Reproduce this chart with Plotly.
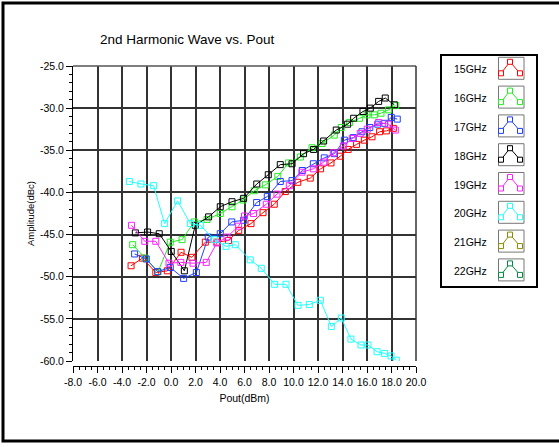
import plotly.graph_objects as go

# ---------------- data ----------------
freq_labels = ["15GHz", "16GHz", "17GHz", "18GHz", "19GHz", "20GHz", "21GHz", "22GHz"]
series_colors = ["#ff0000", "#22ee22", "#1f3fff", "#000000", "#ff22ff", "#22ffff", "#8a8a00", "#008a40"]

x15 = [-3.26, -2.33, -1.24, -0.30, 0.82, 1.71, 2.80, 3.76, 4.70, 5.53, 6.53, 7.51, 8.43, 9.33, 10.35,
       11.37, 12.21, 13.06, 13.82, 14.46, 15.15, 15.78, 16.41, 17.03, 17.58, 18.15]
y15 = [-48.7, -47.8, -49.5, -49.3, -47.1, -47.7, -45.9, -45.9, -45.7, -44.5, -43.7, -42.4, -41.4, -39.9, -38.8,
       -38.3, -37.2, -36.5, -35.7, -34.9, -34.3, -33.8, -33.4, -32.8, -32.7, -32.4]

x16 = [-3.13, -2.10, -1.06, -0.06, 0.90, 1.90, 2.94, 4.02, 4.98, 5.88, 6.80, 7.70, 8.72, 9.60, 10.56,
       11.51, 12.33, 13.33, 13.90, 14.58, 15.40, 16.00, 16.60, 17.14, 17.76, 18.35]
y16 = [-46.2, -47.8, -49.4, -45.9, -45.6, -43.5, -43.2, -42.5, -41.7, -40.9, -39.8, -39.1, -38.1, -36.5, -35.8,
       -34.7, -34.2, -33.2, -32.3, -31.7, -31.2, -30.8, -30.8, -30.6, -30.2, -29.7]

x17 = [-2.97, -2.02, -1.09, -0.06, 1.03, 2.07, 3.04, 4.02, 4.96, 5.93, 6.99, 7.86, 8.92, 9.88, 10.72,
       11.62, 12.51, 13.33, 14.15, 14.88, 15.59, 16.23, 16.88, 17.45, 17.98, 18.47]
y17 = [-47.3, -47.9, -49.4, -48.9, -50.2, -49.5, -45.3, -44.9, -43.5, -43.3, -41.2, -40.5, -38.7, -38.6, -37.4,
       -36.6, -35.9, -35.4, -33.8, -33.5, -32.8, -32.3, -31.9, -31.8, -31.1, -31.3]

x18 = [-2.91, -1.91, -0.96, 0.02, 1.09, 1.98, 3.07, 4.02, 4.98, 5.93, 7.00, 7.94, 8.92, 9.88, 10.82,
       11.64, 12.46, 13.49, 14.42, 14.91, 15.67, 16.27, 16.95, 17.49, 18.23]
y18 = [-44.8, -44.7, -44.9, -47.0, -49.3, -43.9, -42.9, -41.7, -41.1, -40.7, -39.0, -37.9, -36.7, -36.6, -35.4,
       -34.9, -33.9, -32.6, -31.9, -31.2, -30.4, -30.0, -29.2, -28.8, -29.6]

x19 = [-3.22, -2.14, -1.24, -0.16, 0.80, 1.80, 2.88, 3.74, 4.57, 5.52, 6.00, 6.74, 7.78, 8.65, 9.66,
       10.69, 11.62, 12.47, 13.25, 14.07, 14.80, 15.45, 16.02, 16.95, 17.74, 18.31]
y19 = [-43.9, -45.8, -45.8, -48.4, -48.3, -48.4, -48.3, -46.0, -45.3, -44.0, -42.8, -42.5, -41.4, -40.2, -39.2,
       -37.6, -37.2, -36.4, -35.3, -34.5, -33.6, -33.0, -32.5, -31.7, -31.9, -32.6]

x20 = [-3.40, -2.45, -1.42, -0.52, 0.54, 1.58, 2.39, 3.53, 4.49, 5.25, 6.47, 7.37, 8.46, 9.39, 10.37,
       11.29, 12.19, 13.09, 13.90, 14.69, 15.51, 16.08, 16.82, 17.44, 17.96, 18.39]
y20 = [-38.7, -39.0, -39.2, -43.7, -41.0, -43.7, -43.9, -45.6, -46.4, -46.2, -48.0, -49.0, -50.9, -50.9, -53.4,
       -53.3, -52.8, -55.9, -54.9, -57.4, -58.1, -58.1, -58.9, -59.1, -59.4, -59.9]

x21, y21 = [], []
x22, y22 = [], []

xs = [x15, x16, x17, x18, x19, x20, x21, x22]
ys = [y15, y16, y17, y18, y19, y20, y21, y22]

x_ticks = [-8, -6, -4, -2, 0, 2, 4, 6, 8, 10, 12, 14, 16, 18, 20]
y_ticks = [-25, -30, -35, -40, -45, -50, -55, -60]

# ---------------- figure ----------------
W, H = 559, 447
ML, MR, MT, MB = 73, 143, 66, 81
PW, PH = W - ML - MR, H - MT - MB

def px(xpix):
    return (xpix - ML) / PW

def py(ypix):
    return (H - MB - ypix) / PH

FONT = "Liberation Sans, Arial, sans-serif"

fig = go.Figure()
for lab, col, xv, yv in zip(freq_labels, series_colors, xs, ys):
    if len(xv) == 0:
        continue
    fig.add_trace(go.Scatter(
        x=xv, y=yv, mode="lines+markers", name=lab,
        line=dict(color=col, width=1),
        marker=dict(symbol="square-open", size=6, color=col, line=dict(width=1, color=col)),
        showlegend=False,
    ))

fig.update_layout(
    width=W, height=H,
    margin=dict(l=ML, r=MR, t=MT, b=MB),
    paper_bgcolor="white", plot_bgcolor="white",
    font=dict(family=FONT, size=10, color="black"),
    showlegend=False,
)

fig.update_xaxes(
    range=[-8, 20], tickvals=x_ticks, ticktext=[f"{v:.1f}" for v in x_ticks],
    showgrid=True, gridcolor="#333333", gridwidth=1.5,
    zeroline=False, showline=True, linecolor="black", linewidth=1,
    ticks="outside", ticklen=6, tickcolor="black",
    minor=dict(dtick=0.5, ticks="outside", ticklen=3, tickcolor="black", showgrid=False),
    anchor="free", position=0,
    title=dict(text="Pout(dBm)", font=dict(size=10.5), standoff=8),
    tickfont=dict(size=10.5),
)
fig.update_yaxes(
    range=[-60, -25], tickvals=y_ticks, ticktext=[f"{v:.1f}" for v in y_ticks],
    domain=[(366 - 361) / PH, 1],
    showgrid=True, gridcolor="#333333", gridwidth=1.5,
    zeroline=False, showline=True, linecolor="black", linewidth=1, mirror=False,
    ticks="outside", ticklen=6, tickcolor="black",
    minor=dict(dtick=1, ticks="outside", ticklen=3, tickcolor="black", showgrid=False),
    title=dict(text="Amplitude(dBc)", font=dict(size=9.5), standoff=3),
    tickfont=dict(size=10.5),
)

shapes = []
# plot frame top / right
shapes.append(dict(type="line", xref="paper", yref="paper", x0=0, x1=1, y0=1, y1=1,
                   line=dict(color="#555555", width=1.5)))
shapes.append(dict(type="line", xref="paper", yref="paper", x0=1, x1=1, y0=py(361), y1=1,
                   line=dict(color="#333333", width=1.5)))
# outer frame
shapes.append(dict(type="rect", xref="paper", yref="paper", x0=px(3), x1=px(600), y0=py(441), y1=py(3),
                   line=dict(color="black", width=3)))
# legend box
shapes.append(dict(type="rect", xref="paper", yref="paper", x0=px(441), x1=px(537), y0=py(287), y1=py(55),
                   line=dict(color="black", width=2)))

annotations = [dict(text="2nd Harmonic Wave vs. Pout", xref="paper", yref="paper",
                    x=px(187), y=py(39.5), showarrow=False, xanchor="center", yanchor="middle",
                    font=dict(size=13.5, family=FONT, color="black"))]

for i, (lab, col) in enumerate(zip(freq_labels, series_colors)):
    cy = 69.3 + i * 28.8
    annotations.append(dict(text=lab, xref="paper", yref="paper", x=px(470), y=py(cy),
                            showarrow=False, xanchor="center", yanchor="middle",
                            font=dict(size=10.5, family=FONT, color="black")))
    shapes.append(dict(type="rect", xref="paper", yref="paper", x0=px(498.5), x1=px(524),
                       y0=py(cy + 10), y1=py(cy - 12), line=dict(color="#777777", width=1)))
    pts = [(501, cy + 4), (510, cy - 7.5), (520, cy + 4)]
    path = "M {} {} L {} {} L {} {}".format(px(pts[0][0]), py(pts[0][1]), px(pts[1][0]), py(pts[1][1]),
                                            px(pts[2][0]), py(pts[2][1]))
    shapes.append(dict(type="path", xref="paper", yref="paper", path=path, line=dict(color=col, width=1)))
    for (qx, qy) in pts:
        shapes.append(dict(type="rect", xref="paper", yref="paper", x0=px(qx - 2.5), x1=px(qx + 2.5),
                           y0=py(qy + 2.5), y1=py(qy - 2.5), line=dict(color=col, width=1),
                           fillcolor="white"))

fig.update_layout(shapes=shapes, annotations=annotations)
fig.write_html("out.html", config={"displayModeBar": False},
               post_script="document.body.style.margin='0';document.body.style.overflow='hidden';")
